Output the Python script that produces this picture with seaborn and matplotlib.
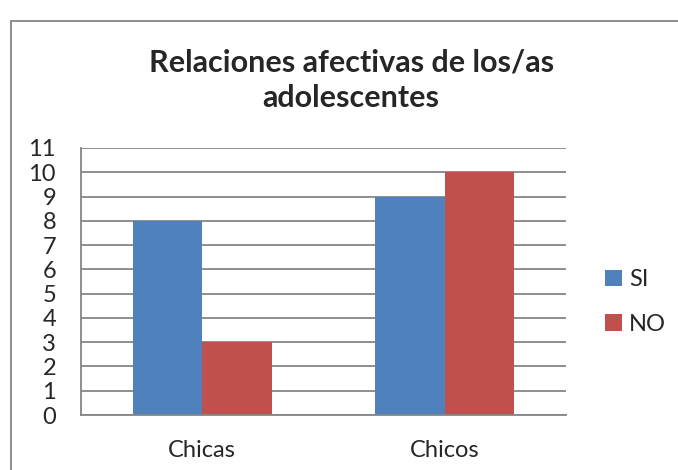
import pandas as pd
import matplotlib.pyplot as plt
import seaborn as sns
from matplotlib.patches import Rectangle

# datos
grupos = ['Chicas', 'Chicos']
si = [8, 9]
no = [3, 10]
series = ['SI', 'NO']
colores = ['#4F81BD', '#C0504D']

df = pd.DataFrame({
    'Grupo': grupos * 2,
    'Respuesta': ['SI'] * len(grupos) + ['NO'] * len(grupos),
    'Valor': si + no,
})

sns.set_theme(style='white')
plt.rcParams['font.family'] = ['Lato', 'DejaVu Sans']

fig = plt.figure(figsize=(6.78, 4.70), dpi=100)
ax = fig.add_axes([81 / 678, 55 / 470, 485 / 678, 267 / 470])

sns.barplot(data=df, x='Grupo', y='Valor', hue='Respuesta', hue_order=series,
            palette=colores, width=0.573, gap=0, saturation=1, ax=ax,
            edgecolor='none', linewidth=0)

ax.set_ylim(0, 11)
ax.set_yticks(range(0, 12))
ax.set_xlim(-0.5, 1.5)
ax.yaxis.grid(True, color='#868686', linewidth=1.3)
ax.set_axisbelow(True)
for lado in ['top', 'right']:
    ax.spines[lado].set_visible(False)
for lado in ['left', 'bottom']:
    ax.spines[lado].set_color('#868686')
    ax.spines[lado].set_linewidth(1.3)
ax.set_xlabel('')
ax.set_ylabel('')
ax.tick_params(axis='y', labelsize=17, length=0, pad=18)
ax.tick_params(axis='x', labelsize=17, length=0, pad=18)

fig.text(0.518, 0.829, 'Relaciones afectivas de los/as\nadolescentes',
         ha='center', va='center', fontsize=22, fontweight='bold',
         linespacing=1.3)

ax.legend(loc='center left', bbox_to_anchor=(584 / 678, 168 / 470),
          bbox_transform=fig.transFigure, frameon=False, fontsize=17,
          handlelength=0.7, handleheight=0.7, handletextpad=0.3,
          labelspacing=1.0)

fig.patches.append(Rectangle((11 / 678, -0.05), 1.0, (470 - 21) / 470 + 0.05,
                             transform=fig.transFigure, fill=False,
                             edgecolor='#868686', linewidth=1.3))

plt.savefig('out.png', dpi=100)
